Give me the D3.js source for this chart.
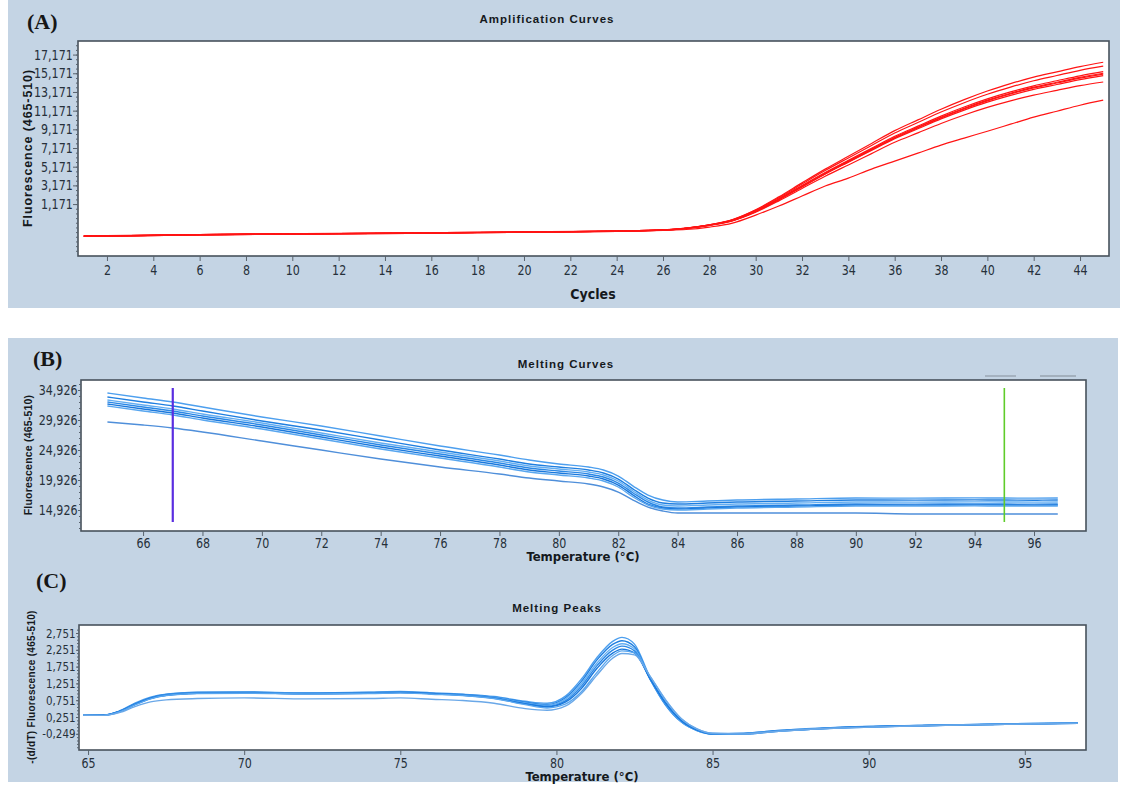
<!DOCTYPE html>
<html>
<head>
<meta charset="utf-8">
<script src="https://cdn.jsdelivr.net/npm/d3@7"></script>
<style>
  body { margin: 0; background: #ffffff; }
  svg { display: block; }
  .tick text { font-family: "Liberation Sans Narrow", "DejaVu Sans Condensed", sans-serif; fill: #26303a; }
  .tick line { stroke: #59636d; }
</style>
</head>
<body>
<script>
'use strict';

// ---------- (A) amplification curves ----------
const cycles = [1, 3, 6, 9, 12, 15, 18, 21, 24, 26, 27, 28, 29, 30, 31, 32, 33, 34, 35, 36, 37, 38, 39, 40, 41, 42, 43, 44, 45];
const ampTop    = [-2230, -2190, -2090, -2020, -1970, -1920, -1850, -1790, -1710, -1590, -1400, -1040, -480, 570, 1940, 3440, 4910, 6290, 7660, 9030, 10180, 11320, 12350, 13270, 14060, 14760, 15320, 15890, 16350];
const ampHigh   = [-2260, -2210, -2110, -2040, -1990, -1940, -1870, -1810, -1730, -1600, -1410, -1050, -510, 520, 1850, 3320, 4760, 6110, 7440, 8780, 9900, 11020, 12020, 12920, 13690, 14370, 14930, 15480, 15930];
const ampMid1   = [-2240, -2200, -2100, -2030, -1980, -1930, -1860, -1800, -1720, -1600, -1420, -1070, -550, 440, 1730, 3150, 4540, 5850, 7140, 8430, 9510, 10590, 11560, 12430, 13180, 13830, 14370, 14900, 15340];
const ampMid2   = [-2250, -2200, -2100, -2030, -1980, -1930, -1860, -1800, -1720, -1600, -1420, -1080, -560, 420, 1700, 3100, 4480, 5770, 7050, 8330, 9400, 10470, 11430, 12290, 13030, 13680, 14210, 14740, 15170];
const ampMid3   = [-2270, -2220, -2120, -2050, -2000, -1950, -1880, -1810, -1730, -1610, -1430, -1100, -600, 360, 1620, 3010, 4390, 5690, 6980, 8250, 9330, 10400, 11360, 12220, 12960, 13600, 14130, 14660, 15090];
const ampMid4   = [-2250, -2210, -2110, -2040, -1990, -1940, -1870, -1820, -1740, -1620, -1420, -1090, -580, 390, 1650, 3030, 4390, 5660, 6920, 8180, 9230, 10290, 11230, 12080, 12810, 13450, 13970, 14490, 14920];
const ampLow    = [-2280, -2230, -2130, -2060, -2010, -1960, -1890, -1830, -1750, -1630, -1440, -1110, -620, 300, 1510, 2840, 4140, 5360, 6570, 7780, 8790, 9800, 10710, 11520, 12220, 12830, 13340, 13840, 14240];
const ampLowest = [-2290, -2240, -2140, -2070, -2020, -1970, -1900, -1840, -1760, -1640, -1550, -1290, -860, -10, 960, 2030, 3100, 3950, 4910, 5770, 6620, 7480, 8230, 8970, 9720, 10470, 11110, 11750, 12290];
const ampXTicks = [2, 4, 6, 8, 10, 12, 14, 16, 18, 20, 22, 24, 26, 28, 30, 32, 34, 36, 38, 40, 42, 44];
const ampYTicks = [1171, 3171, 5171, 7171, 9171, 11171, 13171, 15171, 17171];

// ---------- (B) melting curves ----------
const meltTemps = [64.8, 66, 67, 68, 70, 72, 74, 76, 78, 79, 80, 81, 81.5, 82, 82.5, 83, 83.5, 84, 85, 86, 88, 90, 92, 94, 95, 96, 96.8];
const melt1 = [34430, 33590, 32930, 32090, 30430, 28930, 27260, 25590, 24090, 23260, 22590, 22090, 21590, 20590, 18920, 17420, 16590, 16260, 16420, 16590, 16760, 16920, 16900, 16940, 16920, 16900, 16920];
const melt2 = [33760, 32930, 32260, 31430, 29760, 28260, 26590, 24920, 23420, 22590, 22090, 21590, 21090, 20090, 18420, 16920, 16090, 15920, 16090, 16260, 16420, 16590, 16570, 16610, 16590, 16560, 16590];
const melt3 = [33260, 32430, 31760, 30930, 29430, 27760, 26090, 24590, 23090, 22260, 21760, 21260, 20760, 19760, 18090, 16590, 15760, 15590, 15760, 15920, 16090, 16260, 16240, 16280, 16260, 16240, 16260];
const melt4 = [32930, 32090, 31430, 30590, 29090, 27420, 25760, 24260, 22760, 21920, 21420, 20920, 20420, 19420, 17760, 16260, 15420, 15260, 15420, 15590, 15760, 15920, 15900, 15940, 15920, 15900, 15920];
const melt5 = [32590, 31760, 31090, 30260, 28760, 27090, 25420, 23920, 22420, 21590, 21090, 20590, 20090, 19090, 17420, 15920, 15260, 15090, 15260, 15420, 15590, 15760, 15740, 15780, 15760, 15740, 15760];
const melt6 = [32260, 31430, 30760, 29930, 28420, 26760, 25090, 23590, 22090, 21260, 20760, 20260, 19760, 18760, 17090, 15760, 15090, 14920, 15090, 15260, 15420, 15590, 15570, 15610, 15590, 15570, 15590];
const melt7 = [29590, 29090, 28590, 27930, 26420, 24920, 23420, 22090, 20920, 20260, 19760, 19260, 18760, 17920, 16590, 15420, 14760, 14420, 14420, 14420, 14420, 14420, 14260, 14260, 14260, 14260, 14260];
const meltMarkers = [67, 95];
const meltXTicks = [66, 68, 70, 72, 74, 76, 78, 80, 82, 84, 86, 88, 90, 92, 94, 96];
const meltYTicks = [14926, 19926, 24926, 29926, 34926];

// ---------- (C) melting peaks ----------
const peakTemps = [64.84, 65.5, 66, 66.5, 67, 67.5, 68.5, 70, 72, 74, 75, 76, 77, 78, 79, 79.7, 80.3, 80.8, 81.3, 81.8, 82.1, 82.5, 83, 83.5, 84, 84.5, 85, 86, 87, 88, 90, 92, 94, 96.7];
const peak1 = [0.31, 0.31, 0.43, 0.66, 0.84, 0.93, 0.99, 1.00, 0.97, 0.99, 1.01, 0.97, 0.93, 0.86, 0.72, 0.66, 0.88, 1.38, 2.02, 2.50, 2.62, 2.42, 1.42, 0.62, 0.12, -0.14, -0.24, -0.23, -0.16, -0.10, -0.03, 0.01, 0.04, 0.07];
const peak2 = [0.30, 0.31, 0.42, 0.64, 0.82, 0.92, 0.98, 0.99, 0.96, 0.98, 1.00, 0.96, 0.92, 0.84, 0.69, 0.62, 0.83, 1.31, 1.95, 2.41, 2.52, 2.34, 1.38, 0.60, 0.10, -0.15, -0.25, -0.24, -0.16, -0.11, -0.03, 0.01, 0.04, 0.07];
const peak3 = [0.31, 0.30, 0.41, 0.63, 0.81, 0.91, 0.97, 0.98, 0.95, 0.97, 0.99, 0.95, 0.91, 0.83, 0.67, 0.60, 0.79, 1.24, 1.86, 2.32, 2.43, 2.28, 1.38, 0.62, 0.11, -0.15, -0.26, -0.25, -0.17, -0.11, -0.04, 0.00, 0.04, 0.07];
const peak4 = [0.30, 0.30, 0.41, 0.62, 0.80, 0.90, 0.96, 0.97, 0.95, 0.96, 0.98, 0.94, 0.90, 0.82, 0.65, 0.57, 0.74, 1.17, 1.78, 2.24, 2.36, 2.22, 1.38, 0.64, 0.13, -0.14, -0.26, -0.26, -0.18, -0.12, -0.04, 0.00, 0.03, 0.07];
const peak5 = [0.31, 0.31, 0.42, 0.63, 0.81, 0.90, 0.96, 0.97, 0.94, 0.96, 0.98, 0.95, 0.90, 0.81, 0.64, 0.55, 0.70, 1.10, 1.70, 2.15, 2.27, 2.16, 1.40, 0.68, 0.15, -0.13, -0.25, -0.25, -0.17, -0.12, -0.04, 0.00, 0.03, 0.06];
const peak6 = [0.30, 0.30, 0.40, 0.61, 0.79, 0.89, 0.95, 0.96, 0.94, 0.95, 0.97, 0.93, 0.89, 0.80, 0.62, 0.52, 0.64, 1.00, 1.58, 2.08, 2.22, 2.16, 1.46, 0.74, 0.20, -0.10, -0.24, -0.26, -0.18, -0.12, -0.05, 0.00, 0.03, 0.06];
const peak7 = [0.31, 0.30, 0.38, 0.56, 0.70, 0.76, 0.80, 0.82, 0.79, 0.80, 0.82, 0.78, 0.74, 0.66, 0.50, 0.45, 0.58, 0.95, 1.50, 2.00, 2.14, 2.10, 1.46, 0.76, 0.20, -0.10, -0.23, -0.25, -0.18, -0.12, -0.05, 0.00, 0.03, 0.06];
const peakXTicks = [65, 70, 75, 80, 85, 90, 95];
const peakYTicks = [-0.249, 0.251, 0.751, 1.251, 1.751, 2.251, 2.751];

const panelBlue = "#c4d4e4";
const narrow = '"Liberation Sans Narrow", "DejaVu Sans Condensed", sans-serif';
const boldSans = '"Liberation Sans", Arial, sans-serif';

let svg = d3.select('body').append('svg')
  .attr('width', 1129)
  .attr('height', 791);

// blue panel backgrounds
svg.append('rect').attr('x', 8).attr('y', 0).attr('width', 1112).attr('height', 308).attr('fill', panelBlue);
svg.append('rect').attr('x', 8).attr('y', 338).attr('width', 1110).attr('height', 444).attr('fill', panelBlue);

// draw one chart: frame, axes, curves
function drawPanel(p) {
  let xScale = d3.scaleLinear().domain(p.xDomain).range([p.left, p.right]);
  let yScale = d3.scaleLinear().domain(p.yDomain).range([p.bottom, p.top]);

  // plot frame
  svg.append('rect')
    .attr('x', p.left).attr('y', p.top)
    .attr('width', p.right - p.left).attr('height', p.bottom - p.top)
    .attr('fill', '#ffffff')
    .attr('stroke', '#48525c')
    .attr('stroke-width', 1.6);

  // minor y ticks
  svg.append('g')
    .attr('transform', 'translate(' + p.left + ',0)')
    .call(d3.axisLeft(yScale).tickValues(p.yMinor).tickSize(2).tickFormat(''))
    .call(g => g.select('.domain').remove());

  // y axis
  let yAxis = svg.append('g')
    .attr('transform', 'translate(' + p.left + ',0)')
    .call(d3.axisLeft(yScale).tickValues(p.yTicks).tickSize(p.yTickSize).tickPadding(1).tickFormat(p.yFormat));
  yAxis.select('.domain').remove();
  yAxis.selectAll('text')
    .style('font-size', p.yFont + 'px')
    .attr('transform', 'scale(0.88,1)');

  // x axis
  let xAxis = svg.append('g')
    .attr('transform', 'translate(0,' + p.bottom + ')')
    .call(d3.axisBottom(xScale).tickValues(p.xTicks).tickSize(5).tickPadding(p.xPad).tickFormat(d3.format('d')));
  xAxis.select('.domain').remove();
  xAxis.selectAll('text')
    .style('font-size', p.xFont + 'px')
    .attr('transform', 'scale(0.88,1)');

  // curves
  let line = d3.line()
    .x((d, i) => xScale(p.xs[i]))
    .y(d => yScale(d))
    .curve(d3.curveMonotoneX);

  p.series.forEach(function(s, i) {
    svg.append('path')
      .attr('d', line(s))
      .attr('fill', 'none')
      .attr('stroke', p.colors[i % p.colors.length])
      .attr('stroke-width', p.lineWidth);
  });

  // titles
  svg.append('text')
    .attr('x', p.titleX).attr('y', p.titleY)
    .attr('text-anchor', 'middle')
    .style('font-family', boldSans)
    .style('font-weight', 'bold')
    .style('font-size', '11.5px')
    .style('letter-spacing', '1px')
    .style('fill', '#15191d')
    .text(p.title);

  svg.append('text')
    .attr('x', p.xLabelX).attr('y', p.xLabelY)
    .attr('text-anchor', 'middle')
    .style('font-family', narrow)
    .style('font-weight', 'bold')
    .style('font-size', p.xLabelFont + 'px')
    .style('fill', '#15191d')
    .text(p.xLabel);

  svg.append('text')
    .attr('transform', 'translate(' + p.yLabelX + ',' + p.yLabelY + ')rotate(-90)')
    .attr('text-anchor', 'middle')
    .style('font-family', boldSans)
    .style('font-weight', 'bold')
    .style('font-size', p.yLabelFont + 'px')
    .style('letter-spacing', p.yLabelSpacing + 'px')
    .style('fill', '#15191d')
    .text(p.yLabel);

  svg.append('text')
    .attr('x', p.tagX).attr('y', p.tagY)
    .style('font-family', '"Liberation Serif", "Times New Roman", serif')
    .style('font-weight', 'bold')
    .style('font-size', '22px')
    .style('fill', '#161616')
    .text(p.tag);

  return { x: xScale, y: yScale };
}

// (A)
drawPanel({
  left: 78, right: 1109, top: 41, bottom: 256,
  xDomain: [0.75, 45.25], yDomain: [-4387, 18625],
  xTicks: ampXTicks, yTicks: ampYTicks,
  yMinor: d3.range(-3829, 18500, 500),
  yFormat: d3.format(','), yTickSize: 5, yFont: 14, xFont: 14, xPad: 4,
  xs: cycles,
  series: [ampTop, ampHigh, ampMid1, ampMid2, ampMid3, ampMid4, ampLow, ampLowest],
  colors: ['#ff1414'], lineWidth: 1.2,
  title: 'Amplification Curves', titleX: 547, titleY: 23,
  xLabel: 'Cycles', xLabelX: 593, xLabelY: 299, xLabelFont: 14,
  yLabel: 'Fluorescence (465-510)', yLabelX: 32, yLabelY: 148, yLabelFont: 12.5, yLabelSpacing: 0.9,
  tag: '(A)', tagX: 27, tagY: 29
});

// (B)
let melt = drawPanel({
  left: 81, right: 1086, top: 380, bottom: 531,
  xDomain: [63.91, 97.75], yDomain: [11426, 36593],
  xTicks: meltXTicks, yTicks: meltYTicks,
  yMinor: d3.range(11926, 36593, 1000),
  yFormat: d3.format(','), yTickSize: 3, yFont: 14, xFont: 14, xPad: 2,
  xs: meltTemps,
  series: [melt1, melt2, melt3, melt4, melt5, melt6, melt7],
  colors: ['#4d9fee', '#1f7fe0', '#62adf2', '#2a88e6', '#1a78dc', '#58a6ef', '#4f8fda'], lineWidth: 1.4,
  title: 'Melting Curves', titleX: 566, titleY: 368,
  xLabel: 'Temperature (°C)', xLabelX: 583, xLabelY: 561, xLabelFont: 13,
  yLabel: 'Fluorescence (465-510)', yLabelX: 32, yLabelY: 455, yLabelFont: 10.5, yLabelSpacing: 0.2,
  tag: '(B)', tagX: 33, tagY: 366
});

// threshold markers on the melting curves
const markerColors = ['#5a2ee0', '#5fcc2a'];
meltMarkers.forEach(function(t, i) {
  svg.append('line')
    .attr('x1', melt.x(t)).attr('x2', melt.x(t))
    .attr('y1', melt.y.range()[1] + 8).attr('y2', melt.y.range()[0] - 9)
    .attr('stroke', markerColors[i])
    .attr('stroke-width', i == 0 ? 2.2 : 1.6);
});

// small grey handles above the melting chart
svg.append('line').attr('x1', 985).attr('x2', 1016).attr('y1', 376).attr('y2', 376)
  .attr('stroke', '#98a4b0').attr('stroke-width', 1.4);
svg.append('line').attr('x1', 1040).attr('x2', 1076).attr('y1', 376).attr('y2', 376)
  .attr('stroke', '#98a4b0').attr('stroke-width', 1.4);

// (C)
drawPanel({
  left: 79, right: 1086, top: 625, bottom: 750,
  xDomain: [64.71, 96.96], yDomain: [-0.731, 2.989],
  xTicks: peakXTicks, yTicks: peakYTicks,
  yMinor: d3.range(-0.649, 2.95, 0.1),
  yFormat: d => d3.format('.3f')(d).replace('.', ',').replace('−', '-'), yTickSize: 3, yFont: 13, xFont: 14, xPad: 3,
  xs: peakTemps,
  series: [peak1, peak2, peak3, peak4, peak5, peak6, peak7],
  colors: ['#4d9fee', '#1f7fe0', '#62adf2', '#2a88e6', '#1a78dc', '#58a6ef', '#6aa8e8'], lineWidth: 1.4,
  title: 'Melting Peaks', titleX: 557, titleY: 612,
  xLabel: 'Temperature (°C)', xLabelX: 582, xLabelY: 781, xLabelFont: 13,
  yLabel: '-(d/dT) Fluorescence (465-510)', yLabelX: 35, yLabelY: 687, yLabelFont: 10, yLabelSpacing: 0.3,
  tag: '(C)', tagX: 36, tagY: 588
});
</script>
</body>
</html>
